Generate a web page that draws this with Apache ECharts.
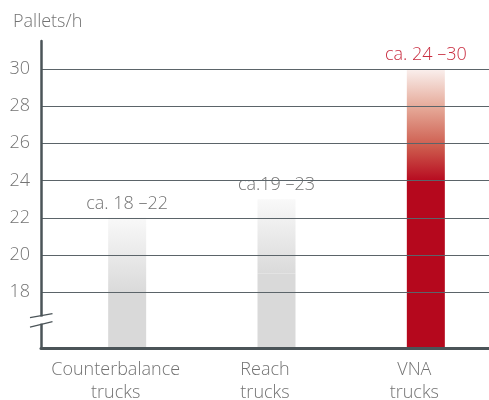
<!DOCTYPE html>
<html>
<head>
<meta charset="utf-8">
<script src="https://cdn.jsdelivr.net/npm/echarts@6/dist/echarts.min.js"></script>
<style>
  html, body { margin: 0; padding: 0; background: #fff; }
  #chart { width: 489px; height: 400px; }
</style>
</head>
<body>
<div id="chart"></div>
<script>
const categories = ['Counterbalance\ntrucks', 'Reach\ntrucks', 'VNA\ntrucks'];
const minValues = [18, 19, 24];
const maxValues = [22, 23, 30];
const rangeLabels = ['ca. 18 \u201322', 'ca.19 \u201323', 'ca. 24 \u201330'];
const yTicks = [18, 20, 22, 24, 26, 28, 30];

const FONT = '"Open Sans", Lato, sans-serif';
const gray = '#737373';

const solidColors = ['#d9d9d9', '#d9d9d9', '#b5081d'];
const fadeStops = [
    [[0, '#f9f9f9'], [1, '#dadada']],
    [[0, '#f9f9f9'], [1, '#dadada']],
    [[0, '#faf0ee'], [0.35, '#e5a897'], [0.7, '#cd5b4d'], [1, '#b70b20']]
];
const labelColors = [gray, gray, '#c92d40'];

const chart = echarts.init(document.getElementById('chart'), null, { renderer: 'canvas' });

// splitlines only at the labelled ticks (axis runs 15..31.5 in steps of 1)
const splitColors = [];
for (let v = 15; v <= 31; v++) splitColors.push(yTicks.includes(v) ? '#5b6469' : 'rgba(0,0,0,0)');
splitColors.push('rgba(0,0,0,0)');

const option = {
    animation: false,
    title: {
        text: 'Pallets/h',
        left: 8,
        top: 8,
        textStyle: { fontFamily: FONT, fontSize: 18, fontWeight: 300, color: gray }
    },
    grid: { left: 41, right: 0, top: 41, bottom: 52, outerBoundsMode: 'none', containLabel: false },
    xAxis: {
        type: 'category',
        data: categories,
        z: 5,
        axisLine: { lineStyle: { color: '#4b5458', width: 3 } },
        axisTick: { show: false },
        axisLabel: {
            interval: 0,
            hideOverlap: false,
            fontFamily: FONT, fontSize: 18, fontWeight: 300, color: gray, lineHeight: 23, margin: 10
        }
    },
    yAxis: {
        type: 'value',
        min: 15,
        max: 31.5,
        interval: 1,
        z: 5,
        axisLine: { show: true, lineStyle: { color: '#4b5458', width: 2.5 } },
        axisTick: { show: false },
        axisLabel: {
            fontFamily: FONT, fontSize: 18, fontWeight: 300, color: gray, margin: 11,
            formatter: v => yTicks.includes(v) ? String(v) : ''
        },
        splitLine: { show: true, lineStyle: { color: splitColors, width: 1 } }
    },
    series: [
        {
            // empty spacer, shifts the visible bars right inside each band
            type: 'bar',
            stack: 'spacer',
            barWidth: 23,
            barGap: '0%',
            data: categories.map(() => '-'),
            itemStyle: { color: 'rgba(0,0,0,0)' }
        },
        {
            type: 'bar',
            stack: 'range',
            barWidth: 38,
            barGap: '0%',
            data: minValues.map((v, i) => ({ value: v, itemStyle: { color: solidColors[i] } }))
        },
        {
            type: 'bar',
            stack: 'range',
            barWidth: 38,
            barGap: '0%',
            data: maxValues.map((v, i) => ({
                value: v - minValues[i],
                itemStyle: {
                    color: new echarts.graphic.LinearGradient(0, 0, 0, 1,
                        fadeStops[i].map(s => ({ offset: s[0], color: s[1] })))
                },
                label: { color: labelColors[i] }
            })),
            label: {
                show: true,
                position: 'top',
                distance: 5,
                fontFamily: FONT,
                fontSize: 18,
                fontWeight: 300,
                formatter: p => rangeLabels[p.dataIndex]
            }
        }
    ]
};

chart.setOption(option);

// axis break mark on the y axis
const yBreak = chart.convertToPixel({ yAxisIndex: 0 }, 16.5);
chart.setOption({
    graphic: [
        { type: 'rect', z: 10, shape: { x: 38, y: yBreak - 3.5, width: 6, height: 7 }, style: { fill: '#fff' } },
        { type: 'line', z: 11, shape: { x1: 30, y1: yBreak - 2.5, x2: 52.5, y2: yBreak - 6.5 }, style: { stroke: '#4b5458', lineWidth: 1.3 } },
        { type: 'line', z: 11, shape: { x1: 30, y1: yBreak + 7, x2: 52.5, y2: yBreak + 1.5 }, style: { stroke: '#4b5458', lineWidth: 1.3 } }
    ]
});
</script>
</body>
</html>
